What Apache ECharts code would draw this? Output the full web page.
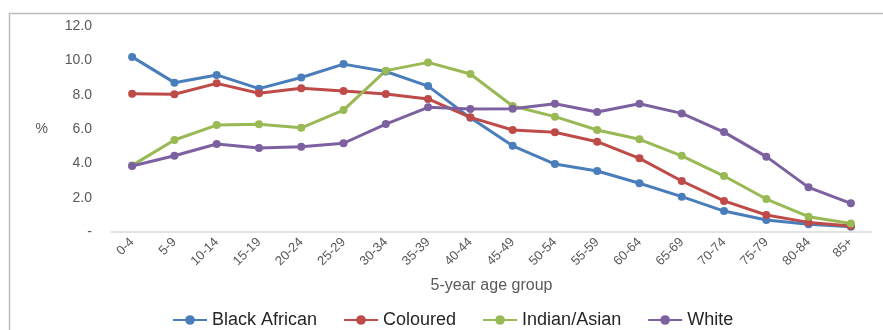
<!DOCTYPE html>
<html>
<head>
<meta charset="utf-8">
<script src="https://cdn.jsdelivr.net/npm/echarts@6/dist/echarts.min.js"></script>
<style>
  html, body { margin: 0; padding: 0; background: #fff; }
  #chart { width: 883px; height: 330px; }
</style>
</head>
<body>
<div id="chart"></div>
<script>
// Population share by 5-year age group and population group (%)
const ageGroups = ['0-4','5-9','10-14','15-19','20-24','25-29','30-34','35-39','40-44',
  '45-49','50-54','55-59','60-64','65-69','70-74','75-79','80-84','85+'];

const blackAfrican = [10.2, 8.7, 9.15, 8.35, 9.0, 9.78, 9.35, 8.5, 6.65, 5.02, 3.96, 3.55, 2.84, 2.06, 1.22, 0.70, 0.45, 0.30];
const coloured     = [8.06, 8.02, 8.66, 8.08, 8.37, 8.21, 8.04, 7.75, 6.68, 5.94, 5.81, 5.26, 4.29, 2.97, 1.81, 0.99, 0.56, 0.35];
const indianAsian  = [3.88, 5.36, 6.23, 6.27, 6.07, 7.10, 9.40, 9.88, 9.20, 7.34, 6.72, 5.94, 5.40, 4.44, 3.26, 1.92, 0.89, 0.50];
const white        = [3.84, 4.44, 5.13, 4.89, 4.97, 5.17, 6.29, 7.26, 7.16, 7.18, 7.47, 6.99, 7.47, 6.91, 5.82, 4.39, 2.60, 1.67];

const yTickLabels = ['-', '2.0', '4.0', '6.0', '8.0', '10.0', '12.0'];

const seriesDefs = [
  { name: 'Black African', data: blackAfrican, color: '#4A7EBB' },
  { name: 'Coloured',      data: coloured,     color: '#BE4B48' },
  { name: 'Indian/Asian',  data: indianAsian,  color: '#98B954' },
  { name: 'White',         data: white,        color: '#7D60A0' }
];

const font = 'Liberation Sans, Arial, sans-serif';
const chart = echarts.init(document.getElementById('chart'));

chart.setOption({
  animation: false,
  textStyle: { fontFamily: font },
  graphic: [{
    type: 'rect',
    left: 7, top: 11,
    shape: { width: 900, height: 400 },
    style: { fill: 'none', stroke: '#BDBDBD', lineWidth: 1.5 },
    silent: true
  }],
  grid: { left: 111, right: 11, top: 26, bottom: 98 },
  legend: {
    left: 167, top: 306,
    itemWidth: 34, itemHeight: 12, itemGap: 26,
    textStyle: { fontFamily: font, fontSize: 18, color: '#262626' },
    data: seriesDefs.map(s => s.name)
  },
  xAxis: {
    type: 'category',
    data: ageGroups,
    boundaryGap: true,
    name: '5-year age group',
    nameLocation: 'middle',
    nameGap: 46,
    nameTextStyle: { fontFamily: font, fontSize: 16, color: '#595959' },
    axisLine: { lineStyle: { color: '#D9D9D9', width: 1.5 } },
    axisTick: { show: false },
    axisLabel: { rotate: 45, fontSize: 13, color: '#595959', margin: 8, fontFamily: font }
  },
  yAxis: {
    type: 'value',
    min: 0, max: 12, interval: 2,
    name: '%',
    nameLocation: 'middle',
    nameRotate: 0,
    nameGap: 63,
    nameTextStyle: { fontFamily: font, fontSize: 14, color: '#595959' },
    axisLine: { show: false },
    axisTick: { show: false },
    splitLine: { show: false },
    axisLabel: {
      fontSize: 14, color: '#595959', margin: 19, fontFamily: font,
      formatter: v => yTickLabels[Math.round(v / 2)]
    }
  },
  series: seriesDefs.map(s => ({
    name: s.name,
    type: 'line',
    data: s.data,
    symbol: 'circle',
    symbolSize: 8,
    lineStyle: { width: 3, color: s.color },
    itemStyle: { color: s.color },
    z: 2
  }))
});
</script>
</body>
</html>
